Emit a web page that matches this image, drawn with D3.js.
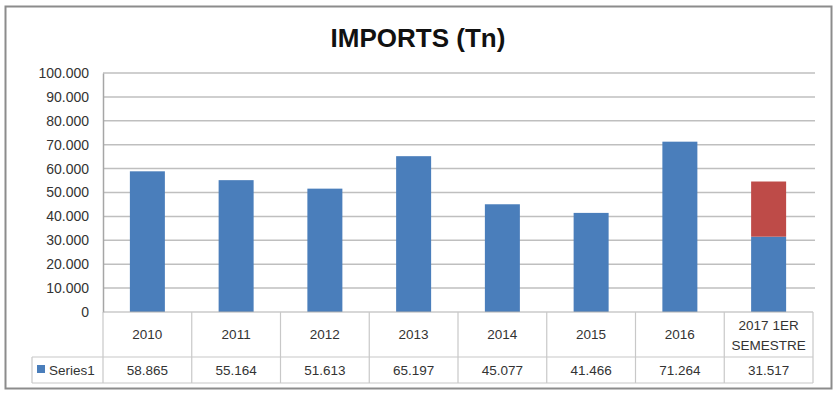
<!DOCTYPE html>
<html><head><meta charset="utf-8">
<script src="https://cdn.jsdelivr.net/npm/d3@7"></script>
<style>
html,body{margin:0;padding:0;background:#fff;}
svg{display:block;font-family:"Liberation Sans",Arial,sans-serif;}
</style></head>
<body>
<script>
const categories = ["2010","2011","2012","2013","2014","2015","2016","2017 1ER SEMESTRE"];
const series1 = [58865,55164,51613,65197,45077,41466,71264,31517];
const series1Labels = ["58.865","55.164","51.613","65.197","45.077","41.466","71.264","31.517"];
const series2 = [0,0,0,0,0,0,0,23083];
const yTicks = [0,10000,20000,30000,40000,50000,60000,70000,80000,90000,100000];

(function(){
const W=838,H=396;
const svg=d3.select("body").append("svg").attr("width",W).attr("height",H);
svg.append("rect").attr("x",5.5).attr("y",6.5).attr("width",826).attr("height",382)
  .attr("fill","#fff").attr("stroke","#8c8c8c").attr("stroke-width",2);

const pLeft=103,pRight=813,pTop=73,pBottom=312;
const x=d3.scaleBand().domain(categories).range([pLeft,pRight]).paddingInner(0).paddingOuter(0);
const y=d3.scaleLinear().domain([0,100000]).range([pBottom,pTop]);

svg.append("text").attr("x",418).attr("y",47).attr("text-anchor","middle")
  .attr("font-size",26).attr("font-weight","bold").attr("fill","#111").text("IMPORTS (Tn)");

// gridlines
svg.append("g").selectAll("line").data(yTicks.filter(d=>d>0)).join("line")
  .attr("x1",pLeft).attr("x2",pRight+2).attr("y1",d=>y(d)).attr("y2",d=>y(d))
  .attr("stroke","#bfbfbf").attr("stroke-width",1.5);

// y axis
const yAxis=d3.axisLeft(y).tickValues(yTicks).tickSize(0).tickPadding(14)
  .tickFormat(d=>d===0?"0":d3.format(",")(d).replace(/,/g,"."));
const ga=svg.append("g").attr("transform",`translate(${pLeft},0)`).call(yAxis);
ga.select(".domain").attr("stroke","#a6a6a6").attr("stroke-width",1.5);
ga.selectAll("text").attr("font-size",14).attr("fill","#333").attr("font-family","Liberation Sans, Arial, sans-serif");

// bars
const bw=35;
const g=svg.append("g");
g.selectAll("rect.s1").data(categories).join("rect").attr("class","s1")
  .attr("x",(d)=>x(d)+x.bandwidth()/2-bw/2).attr("width",bw)
  .attr("y",(d,i)=>y(series1[i])).attr("height",(d,i)=>y(0)-y(series1[i]))
  .attr("fill","#4a7ebb");
g.selectAll("rect.s2").data(categories).join("rect").attr("class","s2")
  .attr("x",(d)=>x(d)+x.bandwidth()/2-bw/2).attr("width",bw)
  .attr("y",(d,i)=>y(series1[i]+series2[i])).attr("height",(d,i)=>y(series1[i])-y(series1[i]+series2[i]))
  .attr("fill","#be4b48");

// data table
const rowTop=pBottom,row1=357,row2=383,legLeft=32;
const tl=svg.append("g").attr("stroke","#c8c8c8").attr("stroke-width",1.2);
tl.append("line").attr("x1",pLeft).attr("x2",pRight).attr("y1",rowTop).attr("y2",rowTop).attr("stroke","#b0b0b0");
tl.append("line").attr("x1",legLeft).attr("x2",pRight).attr("y1",row1).attr("y2",row1);
tl.append("line").attr("x1",legLeft).attr("x2",pRight).attr("y1",row2).attr("y2",row2);
tl.append("line").attr("x1",legLeft).attr("x2",legLeft).attr("y1",row1).attr("y2",row2);
const bounds=categories.map(c=>x(c)).concat([pRight]);
tl.selectAll("line.v").data(bounds).join("line").attr("class","v")
  .attr("x1",d=>d).attr("x2",d=>d).attr("y1",rowTop).attr("y2",row2);

const tt=svg.append("g").attr("font-size",13.5).attr("fill","#333").attr("text-anchor","middle");
categories.forEach((c,i)=>{
  const cx=x(c)+x.bandwidth()/2;
  if(c.length>8){
    const parts=["2017 1ER","SEMESTRE"];
    tt.append("text").attr("x",cx).attr("y",330).text(parts[0]);
    tt.append("text").attr("x",cx).attr("y",350).text(parts[1]);
  } else {
    tt.append("text").attr("x",cx).attr("y",339).text(c);
  }
  tt.append("text").attr("x",cx).attr("y",375).text(series1Labels[i]);
});
svg.append("rect").attr("x",37).attr("y",365).attr("width",8).attr("height",8).attr("fill","#4a7ebb");
svg.append("text").attr("x",49).attr("y",375).attr("font-size",13.5).attr("fill","#333").text("Series1");
})();
</script>
</body></html>
